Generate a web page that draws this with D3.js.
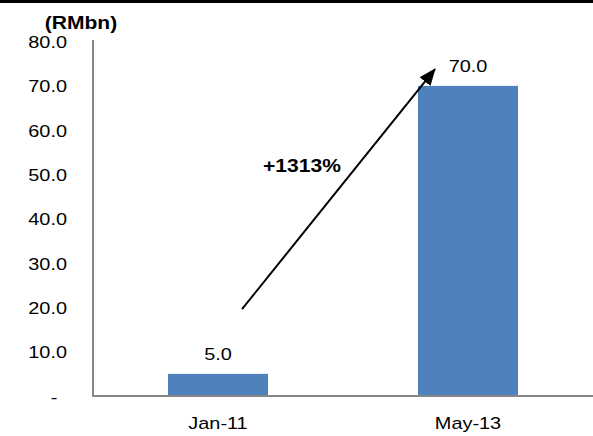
<!DOCTYPE html>
<html>
<head>
<meta charset="utf-8">
<script src="https://cdn.jsdelivr.net/npm/d3@7"></script>
<style>
  body { margin: 0; background: #fff; }
  text { font-family: "Liberation Sans", Arial, sans-serif; fill: #000; }
</style>
</head>
<body>
<div class="canvas"></div>
<script>
const categories = ["Jan-11", "May-13"];
const values = [5.0, 70.0];
const valueLabels = ["5.0", "70.0"];
const yTicks = [0, 10, 20, 30, 40, 50, 60, 70, 80];
const unitLabel = "(RMbn)";
const growthLabel = "+1313%";

const width = 593;
const height = 436;
const stretch = 1.17; // source text looks horizontally stretched

const svg = d3
  .select(".canvas")
  .append("svg")
  .attr("width", width)
  .attr("height", height);

// black rule along the top
svg.append("rect").attr("x", 0).attr("y", 0).attr("width", width).attr("height", 3).attr("fill", "#000");

const x = d3
  .scaleBand()
  .domain(categories)
  .range([93, 593])
  .paddingInner(0.6)
  .paddingOuter(0.3);

const y = d3.scaleLinear().domain([0, 80]).range([396, 41.6]);

function label(sel, px, py, txt, size, bold, anchor) {
  return sel
    .append("text")
    .attr("transform", `translate(${px},${py}) scale(${stretch},1)`)
    .attr("text-anchor", anchor || "middle")
    .style("font-size", size + "px")
    .style("font-weight", bold ? "bold" : "normal")
    .text(txt);
}

// bars
svg
  .selectAll("rect.bar")
  .data(categories)
  .enter()
  .append("rect")
  .attr("class", "bar")
  .attr("x", (c) => x(c))
  .attr("y", (c, i) => y(values[i]))
  .attr("width", x.bandwidth())
  .attr("height", (c, i) => y(0) - y(values[i]))
  .attr("fill", "#4F81BD");

// value labels + category labels
categories.forEach((c, i) => {
  label(svg, x(c) + x.bandwidth() / 2, y(values[i]) - 14, valueLabels[i], 17, false);
  label(svg, x(c) + x.bandwidth() / 2, 429, c, 17, false);
});

// y axis
svg
  .append("line")
  .attr("x1", 93).attr("x2", 93)
  .attr("y1", 40).attr("y2", y(0))
  .attr("stroke", "#868686").attr("stroke-width", 2);

// x axis
svg
  .append("line")
  .attr("x1", 92).attr("x2", 593)
  .attr("y1", y(0)).attr("y2", y(0))
  .attr("stroke", "#868686").attr("stroke-width", 2);

yTicks.forEach((t) => {
  if (t === 0) {
    label(svg, 54, y(t) + 7, "-", 17, false, "middle");
  } else {
    label(svg, 67, y(t) + 6.5, d3.format(".1f")(t), 17, false, "end");
  }
});

label(svg, 81, 29, unitLabel, 18, true, "middle");

// growth arrow
svg
  .append("defs")
  .append("marker")
  .attr("id", "head")
  .attr("markerUnits", "userSpaceOnUse")
  .attr("viewBox", "0 0 17 14")
  .attr("markerWidth", 17)
  .attr("markerHeight", 14)
  .attr("refX", 16)
  .attr("refY", 7)
  .attr("orient", "auto")
  .append("path")
  .attr("d", "M0,0 L17,7 L0,14 Z")
  .attr("fill", "#000");

const ax1 = x("Jan-11") + x.bandwidth() / 2 + 24;
const ay1 = y(19.6);
const ax2 = x("May-13") + 17;
const ay2 = y(73.8);

svg
  .append("line")
  .attr("x1", ax1).attr("y1", ay1)
  .attr("x2", ax2).attr("y2", ay2)
  .attr("stroke", "#000")
  .attr("stroke-width", 2)
  .attr("marker-end", "url(#head)");

label(svg, 302, y(50.6), growthLabel, 18, true, "middle");
</script>
</body>
</html>
